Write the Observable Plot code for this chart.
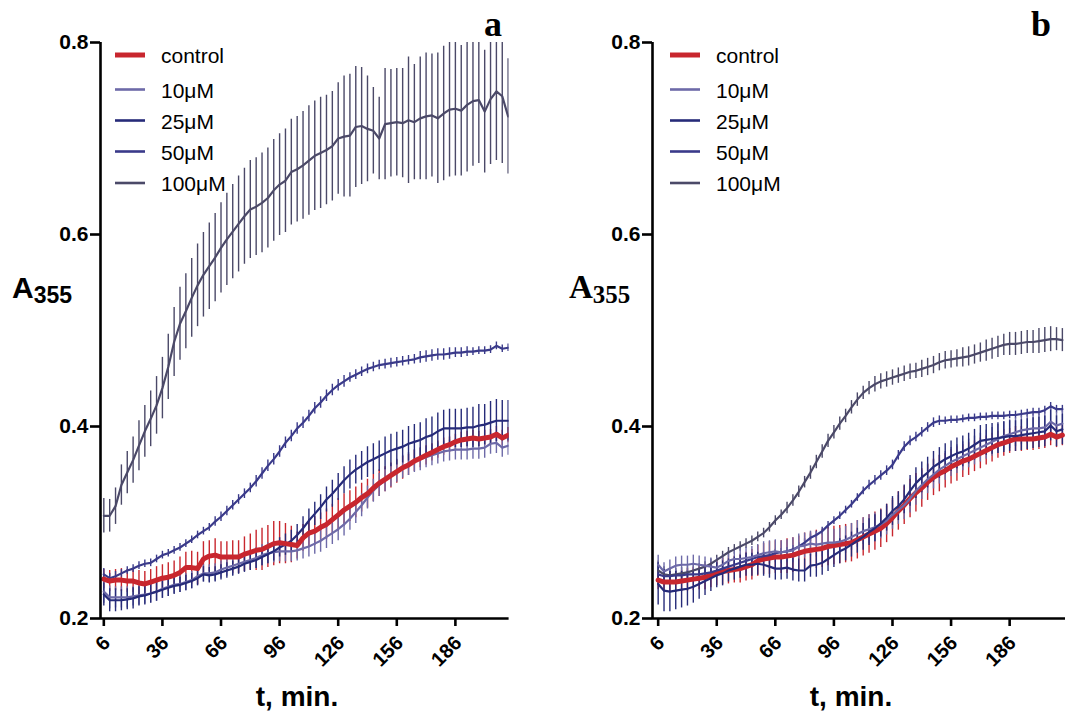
<!DOCTYPE html>
<html>
<head>
<meta charset="utf-8">
<script src="https://cdn.jsdelivr.net/npm/d3@7"></script>
<script src="https://cdn.jsdelivr.net/npm/@observablehq/plot@0.6"></script>
<style>
  html, body { margin: 0; padding: 0; background: #fff; }
  #root { position: relative; width: 1065px; height: 712px; overflow: hidden; background: #fff; }
  #root > svg, #root > figure { position: absolute; top: 0; margin: 0; }
  #overlay { position: absolute; left: 0; top: 0; pointer-events: none; }
</style>
</head>
<body>
<div id="root"></div>
<script>
// ---------------- DATA ----------------
const times = [6,9,12,15,18,21,24,27,30,33,36,39,42,45,48,51,54,57,60,63,66,69,72,75,78,81,84,87,90,93,96,99,102,105,108,111,114,117,120,123,126,129,132,135,138,141,144,147,150,153,156,159,162,165,168,171,174,177,180,183,186,189,192,195,198,201,204,207,210,213];

const seriesNames = ["control", "10μM", "25μM", "50μM", "100μM"];
const seriesColors = ["#c8262e", "#6d6aa8", "#262b79", "#3a3a8a", "#4b4968"];
const xTicks = [6, 36, 66, 96, 126, 156, 186];
const yTicks = [0.2, 0.4, 0.6, 0.8];

// Panel a — means
const aControl = [0.241,0.239,0.240,0.240,0.239,0.239,0.237,0.236,0.238,0.240,
  0.242,0.243,0.245,0.248,0.253,0.253,0.252,0.262,0.265,0.266,
  0.264,0.264,0.264,0.264,0.267,0.269,0.271,0.272,0.275,0.278,
  0.279,0.278,0.277,0.276,0.284,0.289,0.291,0.295,0.298,0.303,
  0.308,0.313,0.317,0.321,0.326,0.330,0.336,0.341,0.345,0.349,
  0.353,0.357,0.360,0.364,0.367,0.370,0.373,0.376,0.379,0.381,
  0.384,0.386,0.387,0.388,0.387,0.388,0.389,0.392,0.388,0.391];
const a10 = [0.228,0.222,0.222,0.222,0.222,0.223,0.224,0.225,0.226,0.228,
  0.231,0.233,0.235,0.236,0.238,0.240,0.244,0.247,0.247,0.248,
  0.251,0.253,0.255,0.257,0.259,0.261,0.263,0.266,0.268,0.269,
  0.270,0.270,0.270,0.271,0.273,0.275,0.278,0.281,0.285,0.289,
  0.293,0.298,0.304,0.311,0.318,0.326,0.333,0.339,0.344,0.349,
  0.354,0.358,0.361,0.364,0.366,0.368,0.370,0.372,0.374,0.375,
  0.376,0.376,0.376,0.377,0.377,0.378,0.382,0.383,0.378,0.380];
const a25 = [0.225,0.219,0.219,0.219,0.220,0.221,0.223,0.224,0.226,0.228,
  0.230,0.232,0.234,0.235,0.237,0.239,0.242,0.246,0.245,0.246,
  0.248,0.250,0.252,0.254,0.257,0.259,0.261,0.264,0.267,0.270,
  0.274,0.277,0.281,0.287,0.294,0.302,0.309,0.316,0.324,0.330,
  0.337,0.344,0.350,0.355,0.359,0.363,0.366,0.369,0.372,0.375,
  0.377,0.379,0.382,0.384,0.386,0.389,0.391,0.395,0.398,0.398,
  0.398,0.398,0.399,0.399,0.401,0.402,0.404,0.406,0.406,0.406];
const a50 = [0.246,0.242,0.244,0.247,0.250,0.252,0.255,0.257,0.258,0.262,
  0.266,0.268,0.271,0.274,0.278,0.282,0.287,0.291,0.295,0.301,
  0.306,0.312,0.318,0.324,0.330,0.336,0.343,0.351,0.359,0.366,
  0.374,0.383,0.390,0.398,0.404,0.411,0.419,0.425,0.432,0.438,
  0.443,0.447,0.451,0.454,0.457,0.460,0.462,0.464,0.465,0.466,
  0.467,0.468,0.469,0.470,0.472,0.473,0.474,0.475,0.475,0.476,
  0.477,0.477,0.478,0.478,0.479,0.479,0.480,0.484,0.481,0.482];
const a100 = [0.307,0.307,0.317,0.339,0.352,0.365,0.380,0.395,0.408,0.422,
  0.440,0.462,0.488,0.507,0.520,0.534,0.547,0.558,0.567,0.576,
  0.586,0.595,0.603,0.611,0.619,0.626,0.629,0.633,0.638,0.646,
  0.652,0.656,0.665,0.668,0.672,0.677,0.682,0.685,0.688,0.692,
  0.700,0.702,0.703,0.712,0.713,0.710,0.708,0.700,0.715,0.716,
  0.717,0.716,0.719,0.717,0.721,0.723,0.724,0.721,0.726,0.730,
  0.731,0.729,0.735,0.739,0.740,0.728,0.741,0.749,0.744,0.723];

// Panel a — errors
const aControlErr = [0.010,0.011,0.011,0.012,0.012,0.012,0.013,0.013,0.013,0.014,
  0.014,0.015,0.015,0.016,0.016,0.017,0.017,0.018,0.016,0.017,
  0.016,0.016,0.017,0.017,0.018,0.019,0.021,0.022,0.022,0.023,
  0.022,0.021,0.019,0.014,0.014,0.014,0.015,0.015,0.016,0.016,
  0.017,0.017,0.016,0.016,0.015,0.015,0.014,0.014,0.013,0.013,
  0.012,0.012,0.011,0.011,0.010,0.010,0.009,0.009,0.009,0.008,
  0.008,0.008,0.008,0.008,0.008,0.008,0.008,0.008,0.008,0.008];
const a10Err = [0.012,0.012,0.011,0.011,0.011,0.010,0.010,0.010,0.010,0.010,
  0.010,0.010,0.009,0.009,0.009,0.009,0.009,0.009,0.009,0.009,
  0.009,0.009,0.010,0.010,0.010,0.010,0.011,0.011,0.011,0.011,
  0.011,0.011,0.011,0.011,0.011,0.011,0.011,0.012,0.012,0.012,
  0.012,0.012,0.012,0.012,0.012,0.012,0.012,0.012,0.012,0.012,
  0.012,0.012,0.012,0.012,0.012,0.011,0.011,0.011,0.011,0.011,
  0.011,0.011,0.011,0.011,0.011,0.011,0.011,0.011,0.010,0.010];
const a25Err = [0.012,0.012,0.012,0.011,0.011,0.011,0.010,0.010,0.010,0.010,
  0.009,0.009,0.009,0.008,0.008,0.008,0.008,0.008,0.008,0.008,
  0.008,0.008,0.008,0.008,0.009,0.009,0.009,0.009,0.010,0.010,
  0.010,0.011,0.011,0.011,0.012,0.012,0.012,0.013,0.013,0.014,
  0.014,0.014,0.015,0.015,0.015,0.016,0.016,0.016,0.017,0.017,
  0.017,0.017,0.018,0.018,0.018,0.019,0.019,0.019,0.019,0.020,
  0.020,0.020,0.020,0.021,0.022,0.021,0.022,0.022,0.021,0.021];
const a50Err = [0.006,0.005,0.005,0.004,0.004,0.004,0.004,0.004,0.004,0.004,
  0.004,0.004,0.004,0.004,0.004,0.004,0.004,0.004,0.004,0.005,
  0.005,0.005,0.005,0.005,0.005,0.005,0.006,0.006,0.006,0.006,
  0.006,0.006,0.006,0.006,0.006,0.006,0.006,0.006,0.006,0.006,
  0.006,0.006,0.005,0.005,0.005,0.005,0.005,0.005,0.005,0.005,
  0.005,0.005,0.005,0.005,0.006,0.006,0.006,0.006,0.006,0.006,
  0.005,0.005,0.005,0.004,0.004,0.004,0.004,0.004,0.004,0.004];
const a100Err = [0.018,0.017,0.019,0.021,0.022,0.024,0.026,0.027,0.029,0.030,
  0.032,0.034,0.036,0.038,0.039,0.041,0.043,0.044,0.045,0.046,
  0.047,0.048,0.049,0.050,0.050,0.051,0.051,0.052,0.052,0.053,
  0.053,0.054,0.055,0.055,0.056,0.057,0.057,0.058,0.057,0.057,
  0.058,0.063,0.064,0.063,0.061,0.055,0.045,0.043,0.058,0.056,
  0.056,0.057,0.066,0.060,0.064,0.066,0.064,0.068,0.070,0.070,
  0.070,0.068,0.070,0.068,0.066,0.064,0.068,0.072,0.070,0.060];

// Panel b — means
const bControl = [0.240,0.238,0.238,0.238,0.239,0.240,0.241,0.242,0.243,0.245,
  0.247,0.249,0.250,0.251,0.252,0.254,0.256,0.260,0.262,0.263,
  0.264,0.264,0.265,0.266,0.268,0.270,0.271,0.272,0.273,0.275,
  0.276,0.277,0.278,0.279,0.282,0.285,0.288,0.291,0.294,0.299,
  0.305,0.312,0.318,0.325,0.331,0.336,0.342,0.347,0.351,0.354,
  0.358,0.361,0.364,0.366,0.369,0.372,0.375,0.378,0.381,0.383,
  0.385,0.387,0.387,0.387,0.387,0.388,0.389,0.392,0.389,0.391];
const b10 = [0.256,0.249,0.252,0.255,0.256,0.256,0.257,0.256,0.255,0.254,
  0.253,0.256,0.260,0.262,0.262,0.263,0.264,0.266,0.268,0.269,
  0.270,0.269,0.270,0.271,0.275,0.276,0.278,0.277,0.278,0.279,
  0.279,0.280,0.282,0.285,0.288,0.291,0.293,0.295,0.298,0.302,
  0.308,0.313,0.318,0.325,0.333,0.339,0.345,0.350,0.355,0.359,
  0.363,0.366,0.369,0.372,0.375,0.378,0.381,0.384,0.387,0.390,
  0.392,0.394,0.396,0.397,0.398,0.398,0.399,0.405,0.401,0.403];
const b25 = [0.236,0.229,0.228,0.229,0.230,0.231,0.233,0.236,0.239,0.242,
  0.245,0.247,0.250,0.252,0.254,0.256,0.256,0.257,0.256,0.254,
  0.252,0.252,0.253,0.251,0.250,0.250,0.255,0.256,0.258,0.262,
  0.266,0.270,0.273,0.277,0.281,0.285,0.290,0.294,0.299,0.305,
  0.312,0.317,0.324,0.333,0.341,0.347,0.352,0.358,0.362,0.366,
  0.369,0.372,0.374,0.377,0.381,0.385,0.386,0.387,0.388,0.389,
  0.390,0.390,0.391,0.392,0.393,0.394,0.395,0.401,0.395,0.397];
const b50 = [0.246,0.244,0.244,0.245,0.245,0.246,0.246,0.246,0.247,0.248,
  0.250,0.252,0.254,0.256,0.258,0.260,0.262,0.264,0.265,0.266,
  0.268,0.269,0.270,0.272,0.275,0.279,0.284,0.287,0.291,0.297,
  0.302,0.307,0.313,0.319,0.326,0.333,0.339,0.344,0.349,0.354,
  0.360,0.370,0.379,0.385,0.389,0.394,0.399,0.404,0.406,0.406,
  0.407,0.407,0.408,0.409,0.409,0.410,0.410,0.411,0.411,0.411,
  0.412,0.412,0.413,0.414,0.415,0.415,0.417,0.421,0.418,0.418];
const b100 = [0.250,0.246,0.245,0.246,0.247,0.248,0.250,0.252,0.254,0.257,
  0.261,0.265,0.269,0.272,0.275,0.278,0.281,0.285,0.289,0.295,
  0.302,0.308,0.315,0.323,0.332,0.342,0.352,0.363,0.374,0.385,
  0.394,0.403,0.411,0.420,0.428,0.435,0.440,0.444,0.447,0.449,
  0.451,0.453,0.455,0.457,0.458,0.460,0.462,0.464,0.467,0.469,
  0.470,0.471,0.472,0.473,0.475,0.477,0.479,0.481,0.483,0.485,
  0.486,0.486,0.487,0.488,0.488,0.489,0.490,0.491,0.491,0.490];

// Panel b — errors
const bControlErr = [0.010,0.010,0.011,0.011,0.011,0.012,0.012,0.012,0.013,0.013,
  0.013,0.014,0.014,0.014,0.015,0.015,0.016,0.016,0.016,0.017,
  0.017,0.017,0.018,0.018,0.018,0.019,0.019,0.020,0.020,0.020,
  0.020,0.020,0.020,0.020,0.020,0.020,0.020,0.020,0.020,0.020,
  0.020,0.020,0.020,0.020,0.020,0.020,0.019,0.019,0.019,0.018,
  0.018,0.018,0.017,0.017,0.016,0.016,0.015,0.015,0.014,0.014,
  0.013,0.013,0.013,0.012,0.012,0.012,0.012,0.012,0.011,0.011];
const b10Err = [0.010,0.009,0.009,0.009,0.009,0.009,0.009,0.009,0.009,0.009,
  0.010,0.010,0.010,0.010,0.011,0.011,0.011,0.011,0.012,0.012,
  0.012,0.012,0.012,0.013,0.013,0.013,0.013,0.013,0.014,0.014,
  0.014,0.014,0.014,0.014,0.014,0.014,0.015,0.015,0.015,0.015,
  0.015,0.015,0.015,0.015,0.015,0.015,0.015,0.015,0.015,0.015,
  0.015,0.015,0.015,0.015,0.015,0.015,0.015,0.015,0.015,0.015,
  0.015,0.015,0.015,0.015,0.015,0.015,0.015,0.015,0.014,0.014];
const b25Err = [0.022,0.022,0.021,0.020,0.019,0.018,0.017,0.016,0.015,0.014,
  0.013,0.013,0.012,0.012,0.012,0.012,0.012,0.012,0.012,0.012,
  0.012,0.012,0.012,0.012,0.012,0.012,0.012,0.013,0.013,0.013,
  0.013,0.013,0.013,0.013,0.013,0.014,0.014,0.014,0.014,0.014,
  0.015,0.015,0.015,0.016,0.016,0.016,0.016,0.016,0.016,0.016,
  0.016,0.016,0.016,0.016,0.016,0.016,0.016,0.016,0.016,0.016,
  0.016,0.016,0.016,0.016,0.016,0.016,0.016,0.016,0.016,0.016];
const b50Err = [0.008,0.006,0.005,0.005,0.004,0.004,0.004,0.004,0.004,0.004,
  0.004,0.004,0.004,0.004,0.004,0.004,0.004,0.004,0.004,0.004,
  0.004,0.004,0.004,0.004,0.004,0.004,0.004,0.004,0.004,0.004,
  0.004,0.004,0.004,0.004,0.004,0.004,0.005,0.005,0.005,0.005,
  0.005,0.005,0.005,0.005,0.005,0.005,0.005,0.005,0.005,0.004,
  0.004,0.004,0.004,0.004,0.004,0.004,0.004,0.004,0.004,0.004,
  0.004,0.004,0.004,0.004,0.004,0.004,0.004,0.004,0.004,0.004];
const b100Err = [0.010,0.008,0.007,0.006,0.006,0.006,0.005,0.005,0.005,0.005,
  0.005,0.005,0.005,0.005,0.005,0.005,0.005,0.005,0.005,0.005,
  0.005,0.005,0.006,0.006,0.006,0.006,0.007,0.007,0.007,0.007,
  0.007,0.007,0.007,0.007,0.007,0.007,0.007,0.008,0.008,0.008,
  0.008,0.008,0.008,0.008,0.008,0.009,0.009,0.009,0.009,0.009,
  0.009,0.009,0.010,0.010,0.010,0.010,0.011,0.011,0.011,0.011,
  0.012,0.012,0.012,0.012,0.012,0.013,0.013,0.013,0.012,0.012];

// ---------------- BUILD ----------------
function buildRows(means, errs) {
  const rows = [];
  seriesNames.forEach((s, k) => {
    times.forEach((t, i) => rows.push({ t, v: means[k][i], e: errs[k][i], s }));
  });
  return rows;
}
const rowsA = buildRows([aControl, a10, a25, a50, a100], [aControlErr, a10Err, a25Err, a50Err, a100Err]);
const rowsB = buildRows([bControl, b10, b25, b50, b100], [bControlErr, b10Err, b25Err, b50Err, b100Err]);

const SANS = "'Liberation Sans', Arial, sans-serif";
const fmtY = d3.format(".1f");

function panel(rows, cfg) {
  const x0 = cfg.xDomain[0];
  const marks = [];
  for (const s of cfg.barOrder) {
    marks.push(Plot.ruleX(rows.filter(r => r.s === s), {
      x: "t", y1: r => r.v - r.e, y2: r => r.v + r.e,
      stroke: "s", strokeWidth: 1.4, clip: true
    }));
  }
  for (const s of cfg.lineOrder) {
    marks.push(Plot.line(rows.filter(r => r.s === s), {
      x: "t", y: "v", stroke: "s",
      strokeWidth: s === "control" ? 5 : 2.2, clip: true
    }));
  }
  // axis lines
  marks.push(Plot.ruleY([0.2], { strokeWidth: 2.6, stroke: "#000" }));
  marks.push(Plot.ruleX([x0], { strokeWidth: 2.6, stroke: "#000" }));
  // tick marks
  marks.push(Plot.axisY({ ticks: yTicks, tickSize: 10, strokeWidth: 2.6, tickFormat: () => "", label: null }));
  marks.push(Plot.axisX({ ticks: xTicks, tickSize: 8, strokeWidth: 2.6, tickFormat: () => "", label: null }));
  // tick labels
  marks.push(Plot.text(yTicks, {
    x: () => x0, y: d => d, text: d => fmtY(d), textAnchor: "end", dx: -12,
    fontSize: 21, fontWeight: "bold", fontFamily: SANS, fill: "#000"
  }));
  marks.push(Plot.text(xTicks, {
    x: d => d, y: () => 0.2, text: d => String(d), textAnchor: "end", rotate: -45,
    dx: 3, dy: 21, fontSize: 20, fontWeight: "bold", fontFamily: SANS, fill: "#000"
  }));
  const svg = Plot.plot({
    width: cfg.width, height: 712,
    marginLeft: cfg.marginLeft, marginRight: cfg.marginRight,
    marginTop: 42, marginBottom: 94,
    x: { domain: cfg.xDomain },
    y: { domain: [0.2, 0.8] },
    color: { domain: seriesNames, range: seriesColors },
    style: { fontFamily: SANS, color: "#000", background: "transparent", overflow: "visible" },
    marks
  });
  svg.style.left = cfg.left + "px";
  return svg;
}

const root = document.getElementById("root");
root.appendChild(panel(rowsA, {
  left: 0, width: 530, marginLeft: 100, marginRight: 21.4, xDomain: [4.3, 213.5],
  barOrder: ["100μM", "control", "50μM", "10μM", "25μM"],
  lineOrder: ["100μM", "50μM", "10μM", "25μM", "control"]
}));
root.appendChild(panel(rowsB, {
  left: 530, width: 535, marginLeft: 122, marginRight: 0, xDomain: [3.1, 214.6],
  barOrder: ["100μM", "control", "50μM", "10μM", "25μM"],
  lineOrder: ["control", "100μM", "50μM", "10μM", "25μM"]
}));

// ---------------- TEXT OVERLAY (titles, axis titles, legends) ----------------
const ov = d3.select(root).append("svg").attr("id", "overlay").attr("width", 1065).attr("height", 712);
const serif = "'Liberation Serif', 'Times New Roman', serif";

function legend(x0, textX) {
  const rowsY = [55, 89.5, 120.5, 151.5, 183];
  seriesNames.forEach((s, k) => {
    ov.append("line").attr("x1", x0).attr("x2", x0 + 30).attr("y1", rowsY[k]).attr("y2", rowsY[k])
      .attr("stroke", seriesColors[k]).attr("stroke-width", s === "control" ? 5 : 2.6);
    ov.append("text").attr("x", textX).attr("y", rowsY[k] + 8).attr("font-family", SANS)
      .attr("font-size", 21).attr("fill", "#000").text(s);
  });
}
legend(115, 161);
legend(670, 716);

// panel letters
ov.append("text").attr("x", 484).attr("y", 36).attr("font-family", serif).attr("font-weight", "bold")
  .attr("font-size", 36).text("a");
ov.append("text").attr("x", 1031).attr("y", 36).attr("font-family", serif).attr("font-weight", "bold")
  .attr("font-size", 36).text("b");

// y titles
const ya = ov.append("text").attr("x", 12).attr("y", 298).attr("font-family", SANS).attr("font-weight", "bold").attr("font-size", 30);
ya.append("tspan").text("A");
ya.append("tspan").attr("font-size", 23).attr("dy", 5).text("355");
const yb = ov.append("text").attr("x", 569).attr("y", 298).attr("font-family", serif).attr("font-weight", "bold").attr("font-size", 33);
yb.append("tspan").text("A");
yb.append("tspan").attr("font-size", 25).attr("dy", 5).text("355");

// x titles
ov.append("text").attr("x", 297).attr("y", 706).attr("text-anchor", "middle").attr("font-family", SANS)
  .attr("font-weight", "bold").attr("font-size", 28).text("t, min.");
ov.append("text").attr("x", 851).attr("y", 706).attr("text-anchor", "middle").attr("font-family", SANS)
  .attr("font-weight", "bold").attr("font-size", 28).text("t, min.");
</script>
</body>
</html>
